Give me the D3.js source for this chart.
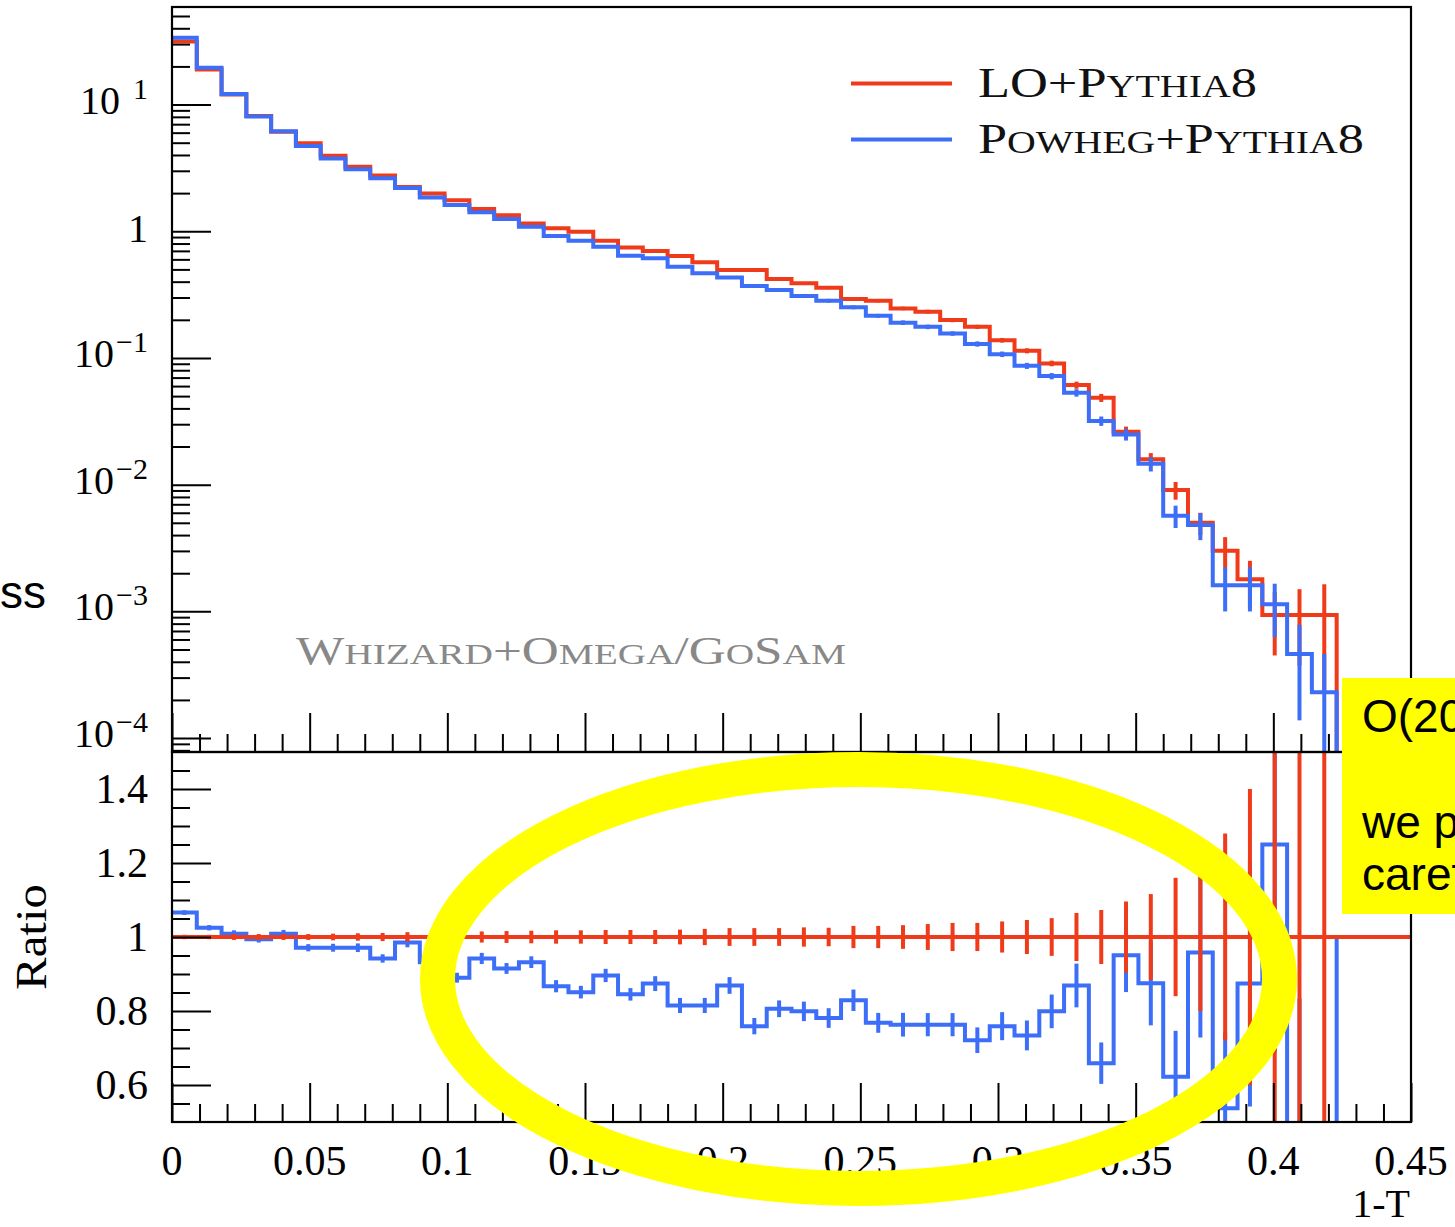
<!DOCTYPE html>
<html>
<head>
<meta charset="utf-8">
<script src="https://cdn.jsdelivr.net/npm/d3@7"></script>
<style>
  body { margin: 0; background: #fff; overflow: hidden; }
  svg { display: block; }
</style>
</head>
<body>
<div id="chart"></div>
<script>
// 1-T histogram, 50 bins of width 0.009 on [0, 0.45]
const binWidth = 0.009;
const nBins = 50;

// LO+Pythia8 (upper panel, red)
const loVals = [
  31.5, 18.9, 12.0, 8.11, 6.10, 4.94, 3.94, 3.23, 2.76, 2.24,
  1.99, 1.76, 1.50, 1.34, 1.154, 1.054, 0.991, 0.841, 0.746, 0.698,
  0.637, 0.569, 0.494, 0.494, 0.420, 0.388, 0.358, 0.292, 0.283, 0.246,
  0.232, 0.199, 0.176, 0.138, 0.114, 0.0906, 0.0611, 0.0485, 0.0262, 0.0159,
  0.00906, 0.00500, 0.00301, 0.00179, 0.000935, 0.000935, 0.000935, 0, 0, 0
];

// Powheg+Pythia8 (upper panel, blue)
const powhegVals = [
  33.7, 19.5, 12.1, 8.06, 6.15, 4.70, 3.76, 3.08, 2.62, 2.20,
  1.85, 1.61, 1.41, 1.25, 1.085, 0.916, 0.842, 0.755, 0.641, 0.611,
  0.525, 0.466, 0.432, 0.370, 0.344, 0.308, 0.283, 0.251, 0.215, 0.190,
  0.176, 0.156, 0.129, 0.107, 0.0867, 0.0719, 0.0531, 0.0318, 0.0249, 0.0146,
  0.00569, 0.00480, 0.00161, 0.00161, 0.00114, 0.000460, 0.000230, 0, 0, 0
];

// lower panel: Powheg / LO
const ratioVals = [
  1.066, 1.025, 1.009, 0.994, 1.009, 0.971, 0.971, 0.971, 0.942, 0.985,
  0.932, 0.890, 0.942, 0.915, 0.932, 0.867, 0.851, 0.896, 0.845, 0.874,
  0.815, 0.815, 0.869, 0.759, 0.806, 0.799, 0.781, 0.829, 0.768, 0.763,
  0.763, 0.763, 0.721, 0.759, 0.734, 0.799, 0.869, 0.659, 0.951, 0.875,
  0.622, 0.958, 0.537, 0.874, 1.25, 0.49, 0.246, 1, 1, 1
];
// LO / LO
const loRatioVals = new Array(nBins).fill(1);

// relative statistical errors
const loRelErr = [
  0.006, 0.006, 0.008, 0.008, 0.008, 0.008, 0.009, 0.010, 0.011, 0.013,
  0.013, 0.014, 0.015, 0.016, 0.017, 0.018, 0.018, 0.019, 0.019, 0.019,
  0.020, 0.022, 0.024, 0.024, 0.024, 0.026, 0.025, 0.030, 0.030, 0.032,
  0.035, 0.038, 0.038, 0.042, 0.046, 0.051, 0.065, 0.073, 0.096, 0.116,
  0.16, 0.20, 0.28, 0.40, 0.52, 0.60, 0.75, 0, 0, 0
];
const powhegRelErr = [
  0.006, 0.007, 0.009, 0.009, 0.010, 0.010, 0.011, 0.012, 0.012, 0.013,
  0.014, 0.015, 0.016, 0.016, 0.017, 0.019, 0.020, 0.020, 0.020, 0.023,
  0.025, 0.025, 0.026, 0.029, 0.028, 0.033, 0.034, 0.035, 0.035, 0.042,
  0.041, 0.041, 0.048, 0.050, 0.055, 0.057, 0.068, 0.085, 0.105, 0.13,
  0.20, 0.24, 0.38, 0.38, 0.45, 0.70, 1.0, 0, 0, 0
];

const xTickLabels = ['0', '0.05', '0.1', '0.15', '0.2', '0.25', '0.3', '0.35', '0.4', '0.45'];
const ratioTickLabels = ['0.6', '0.8', '1', '1.2', '1.4'];
const logExponents = [-4, -3, -2, -1, 0, 1];

const loColor = '#ef3b1a';
const powColor = '#3c6ef8';

// frame geometry
const X0 = 172, X1 = 1411, TOP = 7, MID = 752, BOT = 1122;
const serif = '"Liberation Serif", "Times New Roman", serif';
const sans = '"Liberation Sans", Arial, sans-serif';

const svg = d3.select('#chart')
  .append('svg')
  .attr('width', 1455)
  .attr('height', 1227)
  .style('background', '#fff');

const x = d3.scaleLinear().domain([0, 0.45]).range([X0, X1]);
const yTop = d3.scaleLog().domain([Math.pow(10, -4.11), Math.pow(10, 1.77)]).range([MID, TOP]);
const yRat = d3.scaleLinear().domain([0.5, 1.5]).range([BOT, MID]);

const edges = d3.range(nBins + 1).map(i => i * binWidth);
const centers = d3.range(nBins).map(i => (i + 0.5) * binWidth);

// clip paths
const defs = svg.append('defs');
defs.append('clipPath').attr('id', 'clipTop').append('rect')
  .attr('x', X0).attr('y', TOP).attr('width', X1 - X0).attr('height', MID - TOP);
defs.append('clipPath').attr('id', 'clipRat').append('rect')
  .attr('x', X0).attr('y', MID).attr('width', X1 - X0).attr('height', BOT - MID);

const line = d3.line();

// step outline; drops to floorVal after last filled bin
function stepPoints(vals, yScale, floorVal) {
  const pts = [];
  let last = -1;
  vals.forEach((v, i) => {
    if (v <= 0) return;
    pts.push([x(edges[i]), yScale(v)], [x(edges[i + 1]), yScale(v)]);
    last = i;
  });
  if (floorVal !== undefined) pts.push([x(edges[last + 1]), yScale(floorVal)]);
  return pts;
}

function drawHist(g, vals, errs, yScale, color, floorVal, base) {
  g.append('path')
    .attr('d', line(stepPoints(vals, yScale, floorVal)))
    .attr('fill', 'none')
    .attr('stroke', color)
    .attr('stroke-width', 4)
    .attr('stroke-linejoin', 'miter');

  const bars = d3.range(nBins).filter(i => (base ? base[i] : vals[i]) > 0 && errs[i] > 0);
  g.selectAll(null)
    .data(bars)
    .join('line')
    .attr('x1', i => x(centers[i]))
    .attr('x2', i => x(centers[i]))
    .attr('y1', i => yScale(vals[i] * (1 + errs[i])))
    .attr('y2', i => yScale(Math.max(vals[i] * (1 - errs[i]), 1e-7)))
    .attr('stroke', color)
    .attr('stroke-width', 4);
}

// ---- upper panel ----
const topG = svg.append('g').attr('clip-path', 'url(#clipTop)');
drawHist(topG.append('g'), loVals, loRelErr, yTop, loColor, 1e-6);
drawHist(topG.append('g'), powhegVals, powhegRelErr, yTop, powColor, 1e-6);

// ---- ratio panel ----
const ratG = svg.append('g').attr('clip-path', 'url(#clipRat)');
drawHist(ratG.append('g'), ratioVals, powhegRelErr, yRat, powColor, undefined, powhegVals);
drawHist(ratG.append('g'), loRatioVals, loRelErr, yRat, loColor, undefined, loVals);

// ---- axes ----
function styleAxis(g) {
  g.select('.domain').remove();
  g.selectAll('.tick line').attr('stroke', '#000').attr('stroke-width', 2);
  g.selectAll('.tick text').remove();
}

const xMajor = d3.range(10).map(i => i * 0.05);
const xMinor = d3.range(46).map(i => i * 0.01).filter(v => Math.round(v * 100) % 5 !== 0);

[MID, BOT].forEach(yPos => {
  svg.append('g').attr('transform', `translate(0,${yPos})`)
    .call(d3.axisBottom(x).tickValues(xMajor).tickSize(-39)).call(styleAxis);
  svg.append('g').attr('transform', `translate(0,${yPos})`)
    .call(d3.axisBottom(x).tickValues(xMinor).tickSize(-18)).call(styleAxis);
});

const logMajor = logExponents.map(e => Math.pow(10, e));
const logMinor = [];
d3.range(-5, 2).forEach(e => {
  d3.range(2, 10).forEach(m => {
    const v = m * Math.pow(10, e);
    if (v > yTop.domain()[0] && v < yTop.domain()[1]) logMinor.push(v);
  });
});

svg.append('g').attr('transform', `translate(${X0},0)`)
  .call(d3.axisLeft(yTop).tickValues(logMajor).tickSize(-39)).call(styleAxis);
svg.append('g').attr('transform', `translate(${X0},0)`)
  .call(d3.axisLeft(yTop).tickValues(logMinor).tickSize(-18)).call(styleAxis);

const ratMajor = ratioTickLabels.map(Number);
const ratMinor = d3.range(1, 20).map(i => 0.5 + i * 0.05).filter(v => Math.round(v * 100) % 20 !== 0);
svg.append('g').attr('transform', `translate(${X0},0)`)
  .call(d3.axisLeft(yRat).tickValues(ratMajor).tickSize(-39)).call(styleAxis);
svg.append('g').attr('transform', `translate(${X0},0)`)
  .call(d3.axisLeft(yRat).tickValues(ratMinor).tickSize(-18)).call(styleAxis);

// frames
[[TOP, MID], [MID, BOT]].forEach(([a, b]) => {
  svg.append('rect')
    .attr('x', X0).attr('y', a).attr('width', X1 - X0).attr('height', b - a)
    .attr('fill', 'none').attr('stroke', '#000').attr('stroke-width', 2.2);
});

// tick labels
svg.append('g').selectAll('text')
  .data(xTickLabels)
  .join('text')
  .attr('x', d => x(+d))
  .attr('y', BOT + 53)
  .attr('text-anchor', 'middle')
  .style('font-family', serif)
  .style('font-size', '42px')
  .text(d => d);

svg.append('g').selectAll('text')
  .data(ratioTickLabels)
  .join('text')
  .attr('x', 148)
  .attr('y', d => yRat(+d) + 14)
  .attr('text-anchor', 'end')
  .style('font-family', serif)
  .style('font-size', '42px')
  .text(d => d);

const logLab = svg.append('g');
logExponents.forEach(e => {
  const t = logLab.append('text')
    .attr('x', 148)
    .attr('y', yTop(Math.pow(10, e)) + (e === 0 ? 11 : 9))
    .attr('text-anchor', 'end')
    .style('font-family', serif)
    .style('font-size', '40px');
  if (e === 0) {
    t.text('1');
    return;
  }
  t.append('tspan').text('10');
  t.append('tspan')
    .attr('dx', e > 0 ? 13 : 2)
    .attr('dy', -15)
    .style('font-size', '30px')
    .text(e > 0 ? String(e) : '\u2212' + (-e));
});

// axis titles
svg.append('text')
  .attr('transform', `translate(46,${yRat(1)}) rotate(-90)`)
  .attr('text-anchor', 'middle')
  .attr('textLength', 106)
  .attr('lengthAdjust', 'spacingAndGlyphs')
  .style('font-family', serif)
  .style('font-size', '44px')
  .text('Ratio');

svg.append('text')
  .attr('x', 1410)
  .attr('y', 1217)
  .attr('text-anchor', 'end')
  .style('font-family', serif)
  .style('font-size', '40px')
  .text('1-T');

// small-caps text helper: parts = [[string, isSmall], ...]
function capsText(sel, parts, big, small) {
  parts.forEach(([s, sm]) => {
    sel.append('tspan').style('font-size', (sm ? small : big) + 'px').text(s);
  });
  return sel;
}

// legend
const legendItems = [
  { color: loColor, y: 83.5, width: 279, parts: [['LO+P', 0], ['YTHIA', 1], ['8', 0]] },
  { color: powColor, y: 139.5, width: 386, parts: [['P', 0], ['OWHEG', 1], ['+P', 0], ['YTHIA', 1], ['8', 0]] }
];
const legend = svg.append('g');
legendItems.forEach(item => {
  legend.append('line')
    .attr('x1', 851).attr('x2', 952)
    .attr('y1', item.y).attr('y2', item.y)
    .attr('stroke', item.color).attr('stroke-width', 4);
  const t = legend.append('text')
    .attr('x', 978)
    .attr('y', item.y + 13)
    .attr('textLength', item.width)
    .attr('lengthAdjust', 'spacingAndGlyphs')
    .style('font-family', serif)
    .style('fill', '#111');
  capsText(t, item.parts, 42, 32);
});

const gen = svg.append('text')
  .attr('x', 296)
  .attr('y', 664)
  .attr('textLength', 550)
  .attr('lengthAdjust', 'spacingAndGlyphs')
  .style('font-family', serif)
  .style('fill', '#888');
capsText(gen, [['W', 0], ['HIZARD', 1], ['+O', 0], ['MEGA', 1], ['/G', 0], ['O', 1], ['S', 0], ['AM', 1]], 39, 30);

// ---- slide annotations on top ----
svg.append('ellipse')
  .attr('cx', 858.5).attr('cy', 979)
  .attr('rx', 421).attr('ry', 209.5)
  .attr('fill', 'none')
  .attr('stroke', '#ffff00')
  .attr('stroke-width', 35);

svg.append('rect')
  .attr('x', 1342).attr('y', 678)
  .attr('width', 200).attr('height', 236)
  .attr('fill', '#ffff00');

const noteLines = [['O(20%) effect', 732], ['we plan to', 838], ['carefully', 890]];
svg.append('g').selectAll('text')
  .data(noteLines)
  .join('text')
  .attr('x', 1362)
  .attr('y', d => d[1])
  .style('font-family', sans)
  .style('font-size', '46px')
  .style('fill', '#000')
  .text(d => d[0]);

svg.append('text')
  .attr('x', 0)
  .attr('y', 608)
  .style('font-family', sans)
  .style('font-size', '46px')
  .style('fill', '#000')
  .text('ss');
</script>
</body>
</html>
